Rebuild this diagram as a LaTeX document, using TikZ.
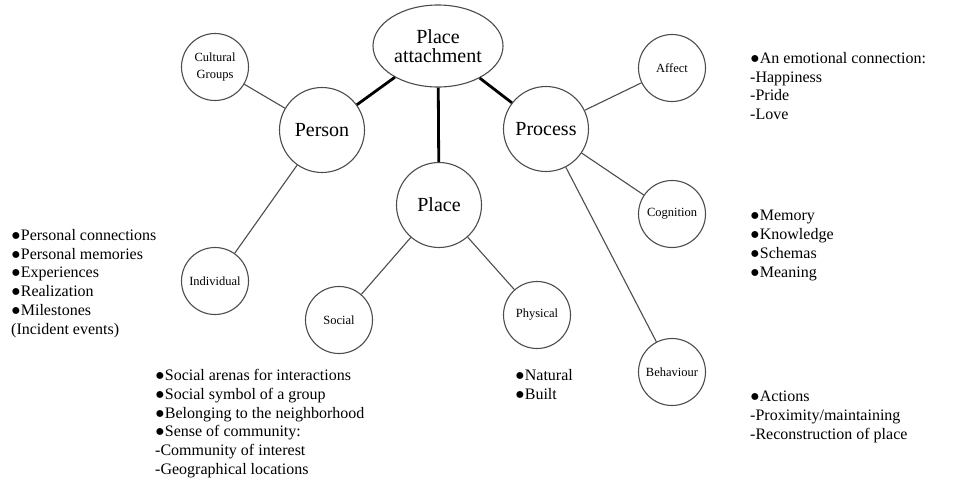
\documentclass[tikz,border=0pt]{standalone}
\usepackage{fontspec}
\setmainfont{Liberation Serif}
\usetikzlibrary{shapes.geometric}
\begin{document}
\begin{tikzpicture}[x=1pt, y=-1pt,
  main/.style = {draw=black!70, line width=1.1pt, circle, minimum size=85pt, inner sep=0pt, font=\fontsize{20}{19}\selectfont},
  sub/.style = {draw=black!70, line width=1.1pt, circle, minimum size=67pt, inner sep=0pt, align=center, font=\fontsize{12.5}{17}\selectfont},
  note/.style = {anchor=north west, inner sep=0pt, align=left, font=\fontsize{16}{18.8}\selectfont},
  link/.style = {draw=black!70, line width=1.1pt}]
  \useasboundingbox (0,0) rectangle (957,480);

  \node[draw=black!70, line width=1.1pt, ellipse, minimum width=130pt, minimum height=82pt, inner sep=0pt, align=center, font=\fontsize{20}{19}\selectfont](1) at (438,46) {Place\\attachment};
  \node[main](2) at (322,130) {Person};
  \node[main](3) at (439,205) {Place};
  \node[main](4) at (546,129) {Process};

  \node[sub](5) at (215,67) {Cultural\\Groups};
  \node[sub](6) at (215,281) {Individual};
  \node[sub](7) at (339,320) {Social};
  \node[sub](8) at (537,315) {Physical};
  \node[sub](9) at (672,68) {Affect};
  \node[sub](10) at (672,214) {Cognition};
  \node[sub](11) at (672,372) {Behaviour};

  \draw[line width=2.8pt] (1) -- (2); \draw[line width=2.8pt] (1) -- (3); \draw[line width=2.8pt] (1) -- (4);
  \draw[link] (2) -- (5); \draw[link] (2) -- (6); \draw[link] (3) -- (7); \draw[link] (3) -- (8);
  \draw[link] (4) -- (9); \draw[link] (4) -- (10); \draw[link] (4) -- (11);

  \node[note](12) at (11,229) {●Personal connections\\●Personal memories\\●Experiences\\●Realization\\●Milestones\\(Incident events)};
  \node[note](13) at (155,369) {●Social arenas for interactions\\●Social symbol of a group\\●Belonging to the neighborhood\\●Sense of community:\\-Community of interest\\-Geographical locations};
  \node[note](14) at (515,369) {●Natural\\●Built};
  \node[note](15) at (750,52) {●An emotional connection:\\-Happiness\\-Pride\\-Love};
  \node[note](16) at (750,210) {●Memory\\●Knowledge\\●Schemas\\●Meaning};
  \node[note](17) at (750,391) {●Actions\\-Proximity/maintaining\\-Reconstruction of place};
\end{tikzpicture}
\end{document}
